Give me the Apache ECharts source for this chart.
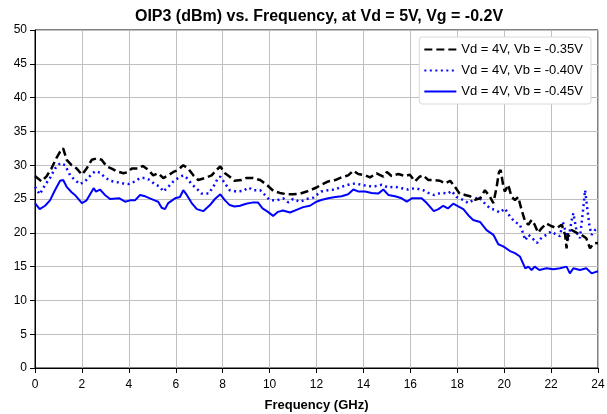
<!DOCTYPE html>
<html>
<head>
<meta charset="utf-8">
<script src="https://cdn.jsdelivr.net/npm/echarts@6/dist/echarts.min.js"></script>
<style>
  html, body { margin: 0; padding: 0; background: #fff; }
  #chart { width: 607px; height: 414px; }
</style>
</head>
<body>
<div id="chart"></div>
<script>
// Axis ticks
const freqTicks = [0, 2, 4, 6, 8, 10, 12, 14, 16, 18, 20, 22, 24];
const oipTicks = [0, 5, 10, 15, 20, 25, 30, 35, 40, 45, 50];

// Series names
const seriesNames = ['Vd = 4V, Vb = -0.35V', 'Vd = 4V, Vb = -0.40V', 'Vd = 4V, Vb = -0.45V'];

// OIP3 (dBm) vs frequency (GHz), Vb = -0.35V
const vb035 = [[0,28.4],[0.07,28.2],[0.28,27.6],[0.5,28.4],[0.7,29.5],[0.92,31.1],[1.07,32.0],[1.2,32.5],[1.35,30.8],[1.56,30.0],[1.78,29.5],[2.0,28.6],[2.2,29.5],[2.42,30.8],[2.63,31.0],[2.84,30.8],[3.06,29.8],[3.27,29.5],[3.48,29.1],[3.77,28.8],[3.98,29.0],[4.12,29.5],[4.4,29.5],[4.6,29.9],[4.83,29.3],[5.04,28.5],[5.25,28.8],[5.47,28.1],[5.68,28.5],[5.9,29.0],[6.1,29.3],[6.32,30.0],[6.53,29.5],[6.75,28.5],[6.96,27.8],[7.25,28.1],[7.53,28.5],[7.74,29.3],[7.9,29.8],[8.1,28.8],[8.3,28.3],[8.5,27.7],[8.8,27.8],[9.0,28.1],[9.3,28.1],[9.6,27.8],[9.88,27.1],[10.16,26.2],[10.44,25.9],[10.73,25.7],[11.0,25.7],[11.3,25.8],[11.58,26.1],[11.8,26.4],[12.0,26.7],[12.2,27.1],[12.5,27.6],[12.8,27.8],[13.07,28.2],[13.35,28.5],[13.57,29.2],[13.78,28.7],[14.07,28.5],[14.28,28.2],[14.56,28.8],[14.85,28.3],[15.0,29.0],[15.2,28.4],[15.49,28.7],[15.77,28.4],[15.98,28.6],[16.2,27.6],[16.4,28.3],[16.55,28.5],[16.77,27.8],[17.05,27.8],[17.26,27.7],[17.48,27.3],[17.7,27.7],[17.9,26.8],[18.1,25.8],[18.33,25.6],[18.55,25.4],[18.76,24.9],[18.97,25.1],[19.18,26.3],[19.4,25.3],[19.54,24.4],[19.68,26.8],[19.78,29.0],[19.85,29.3],[19.96,27.0],[20.03,26.1],[20.17,27.1],[20.32,25.3],[20.46,24.85],[20.6,25.3],[20.74,23.4],[20.9,21.6],[21.03,21.2],[21.17,21.9],[21.3,21.2],[21.45,20.0],[21.6,20.7],[21.8,21.4],[22.0,21.0],[22.24,20.7],[22.45,21.2],[22.6,19.7],[22.66,17.7],[22.73,20.0],[22.88,20.4],[23.1,20.0],[23.3,19.7],[23.5,19.2],[23.66,17.7],[23.8,18.4],[24.0,18.5]];

// OIP3 (dBm) vs frequency (GHz), Vb = -0.40V
const vb040 = [[0,26.8],[0.07,26.6],[0.2,25.7],[0.43,27.1],[0.64,28.1],[0.85,29.5],[1.07,30.3],[1.28,30.0],[1.5,28.5],[1.7,27.8],[1.92,27.2],[2.13,27.6],[2.34,28.4],[2.56,29.1],[2.77,28.9],[2.98,28.2],[3.2,27.7],[3.48,27.5],[3.77,27.3],[3.98,27.2],[4.26,27.6],[4.48,28.1],[4.7,28.1],[4.9,27.8],[5.1,27.2],[5.33,26.8],[5.47,26.1],[5.68,26.8],[5.9,27.6],[6.1,28.1],[6.32,28.5],[6.47,28.1],[6.68,27.2],[6.9,26.5],[7.1,25.8],[7.4,25.8],[7.6,26.8],[7.8,28.1],[7.9,28.3],[8.1,27.3],[8.3,26.3],[8.6,26.1],[8.88,26.2],[9.1,26.7],[9.3,26.3],[9.6,26.3],[9.8,25.6],[10.0,24.85],[10.3,24.8],[10.58,25.1],[10.8,24.5],[11.0,25.0],[11.3,24.6],[11.58,25.0],[11.86,25.2],[12.08,25.8],[12.2,26.1],[12.5,26.3],[12.8,26.4],[13.07,26.8],[13.35,27.1],[13.64,27.3],[13.93,27.1],[14.2,26.9],[14.5,26.9],[14.78,27.1],[15.06,26.7],[15.35,26.8],[15.63,26.6],[15.9,26.4],[16.2,26.6],[16.55,26.3],[16.77,25.9],[17.0,25.6],[17.2,25.8],[17.4,25.9],[17.6,25.8],[17.76,26.2],[17.97,25.3],[18.26,24.85],[18.47,24.4],[18.68,24.85],[18.9,25.3],[19.1,24.6],[19.4,23.6],[19.6,23.4],[19.82,23.0],[20.03,23.6],[20.25,22.4],[20.46,21.6],[20.67,21.2],[20.8,20.0],[20.9,18.9],[21.03,19.7],[21.17,19.3],[21.4,18.5],[21.6,19.3],[21.8,19.7],[22.0,20.2],[22.24,19.7],[22.38,19.5],[22.5,21.6],[22.6,20.4],[22.73,18.9],[22.88,21.9],[22.95,22.9],[23.1,20.0],[23.23,19.2],[23.38,23.9],[23.45,26.3],[23.55,23.4],[23.64,20.9],[23.73,19.7],[23.87,20.4],[24.0,20.7]];

// OIP3 (dBm) vs frequency (GHz), Vb = -0.45V
const vb045 = [[0,24.4],[0.2,23.5],[0.43,24.0],[0.64,24.8],[0.85,26.3],[1.07,27.7],[1.2,27.8],[1.35,26.8],[1.56,26.0],[1.7,25.6],[2.0,24.4],[2.2,24.8],[2.5,26.6],[2.6,26.1],[2.77,26.4],[2.98,25.6],[3.2,25.0],[3.6,25.1],[3.84,24.6],[4.05,24.8],[4.26,24.8],[4.48,25.6],[4.7,25.4],[4.9,25.1],[5.1,24.8],[5.25,24.6],[5.4,23.7],[5.54,23.5],[5.68,24.4],[5.97,25.1],[6.18,25.3],[6.32,26.3],[6.47,25.6],[6.68,24.4],[6.9,23.5],[7.17,23.2],[7.46,24.1],[7.67,25.0],[7.9,25.7],[8.1,24.8],[8.3,24.1],[8.5,23.9],[8.74,24.0],[9.0,24.3],[9.3,24.5],[9.5,24.5],[9.7,23.6],[9.93,23.1],[10.15,22.5],[10.36,23.1],[10.57,23.3],[10.87,23.0],[11.15,23.4],[11.43,23.8],[11.72,24.0],[12.0,24.6],[12.2,24.85],[12.5,25.1],[12.8,25.3],[13.07,25.4],[13.35,25.7],[13.57,26.4],[13.8,26.1],[14.07,26.1],[14.35,25.9],[14.63,25.8],[14.85,26.4],[15.06,25.6],[15.35,25.4],[15.63,25.1],[15.85,24.6],[16.06,25.1],[16.27,25.1],[16.48,25.1],[16.7,24.4],[17.0,23.2],[17.2,23.5],[17.4,24.0],[17.6,23.6],[17.83,24.3],[18.04,23.9],[18.26,23.5],[18.47,22.6],[18.68,21.9],[18.97,21.6],[19.25,20.4],[19.54,19.7],[19.75,18.3],[19.96,18.0],[20.25,17.3],[20.46,17.0],[20.67,16.5],[20.9,14.75],[21.03,15.0],[21.17,14.5],[21.3,15.0],[21.5,14.5],[21.8,14.75],[22.1,14.6],[22.38,14.75],[22.66,15.0],[22.8,14.0],[22.95,14.75],[23.23,14.5],[23.5,14.75],[23.73,14.0],[23.94,14.25],[24.0,14.3]];

const chart = echarts.init(document.getElementById('chart'), null, { renderer: 'canvas' });

const fontFamily = 'Liberation Sans, Arial, sans-serif';
const axisLabelStyle = { color: '#000', fontSize: 12, fontFamily: fontFamily };

chart.setOption({
  animation: false,
  backgroundColor: '#fff',
  title: {
    text: 'OIP3 (dBm) vs. Frequency, at Vd = 5V, Vg = -0.2V',
    left: 314, textAlign: 'center', top: 4,
    textStyle: { fontSize: 16, fontWeight: 'bold', color: '#000', fontFamily: fontFamily }
  },
  grid: {
    left: 35, right: 9, top: 30, bottom: 46,
    outerBoundsMode: 'none',
    show: true, borderColor: '#000', borderWidth: 1, backgroundColor: 'transparent'
  },
  legend: {
    right: 16, top: 37, orient: 'vertical',
    itemWidth: 32, itemHeight: 10, itemGap: 8,
    padding: [6, 8, 6, 4],
    backgroundColor: '#fff', borderColor: '#d9d9d9', borderWidth: 1, borderRadius: 3,
    itemStyle: { color: 'transparent', borderWidth: 0, opacity: 0 },
    textStyle: { fontSize: 13, color: '#000', fontFamily: fontFamily },
    data: seriesNames
  },
  xAxis: {
    type: 'value', min: freqTicks[0], max: freqTicks[freqTicks.length - 1], interval: 2,
    name: 'Frequency (GHz)', nameLocation: 'middle', nameGap: 31,
    nameTextStyle: { fontSize: 13, fontWeight: 'bold', color: '#000', fontFamily: fontFamily },
    axisLine: { show: true, lineStyle: { color: '#000', width: 1 } },
    axisTick: { show: true, length: 5, lineStyle: { color: '#000' } },
    axisLabel: Object.assign({ margin: 11 }, axisLabelStyle),
    splitLine: { show: true, lineStyle: { color: '#bfbfbf', width: 1 } }
  },
  yAxis: {
    type: 'value', min: oipTicks[0], max: oipTicks[oipTicks.length - 1], interval: 5,
    axisLine: { show: true, lineStyle: { color: '#000', width: 1 } },
    axisTick: { show: true, length: 5, lineStyle: { color: '#000' } },
    axisLabel: Object.assign({ margin: 8 }, axisLabelStyle),
    splitLine: { show: true, lineStyle: { color: '#bfbfbf', width: 1 } }
  },
  series: [
    {
      name: seriesNames[0], type: 'line', data: vb035, symbol: 'none', z: 3,
      lineStyle: { color: '#000', width: 2.5, type: [8, 4] }, itemStyle: { color: '#000' }
    },
    {
      name: seriesNames[1], type: 'line', data: vb040, symbol: 'none', z: 2,
      lineStyle: { color: '#0a0aff', width: 2.5, type: [2, 3.5] }, itemStyle: { color: '#0a0aff' }
    },
    {
      name: seriesNames[2], type: 'line', data: vb045, symbol: 'none', z: 2,
      lineStyle: { color: '#0000ff', width: 2 }, itemStyle: { color: '#0000ff' }
    }
  ]
});
</script>
</body>
</html>
